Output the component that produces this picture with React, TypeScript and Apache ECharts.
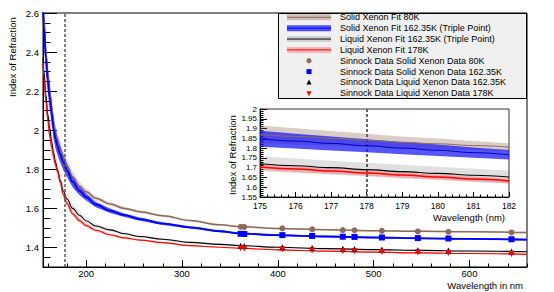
import React, { useEffect, useRef } from "react";
import * as echarts from "echarts";

// ---------- data ----------
const fitWavelengths = [155, 156, 158, 160, 162, 164, 166, 168, 170, 173, 176, 180, 186, 193, 200, 210, 225, 240, 256, 280, 308, 340, 360, 400, 450, 500, 550, 600, 660];
const solid80Fit = [2.66, 2.57, 2.40, 2.29, 2.20, 2.12, 2.04, 1.985, 1.945, 1.90, 1.862, 1.818, 1.762, 1.715, 1.685, 1.652, 1.622, 1.600, 1.583, 1.562, 1.538, 1.516, 1.507, 1.497, 1.491, 1.486, 1.483, 1.480, 1.477];
const solid80Err = [0.08, 0.075, 0.068, 0.062, 0.058, 0.054, 0.05, 0.047, 0.045, 0.042, 0.04, 0.034, 0.027, 0.021, 0.017, 0.013, 0.01, 0.008, 0.007, 0.006, 0.005, 0.005, 0.004, 0.004, 0.004, 0.004, 0.004, 0.004, 0.004];
const solid162Fit = [2.62, 2.53, 2.37, 2.26, 2.17, 2.09, 2.01, 1.958, 1.922, 1.877, 1.838, 1.795, 1.735, 1.69, 1.658, 1.62, 1.588, 1.565, 1.545, 1.522, 1.503, 1.483, 1.472, 1.463, 1.456, 1.451, 1.447, 1.444, 1.44];
const solid162Err = [0.09, 0.085, 0.075, 0.07, 0.065, 0.06, 0.055, 0.05, 0.047, 0.044, 0.04, 0.035, 0.028, 0.022, 0.018, 0.014, 0.011, 0.009, 0.008, 0.007, 0.006, 0.005, 0.005, 0.005, 0.004, 0.004, 0.004, 0.004, 0.004];
const liquid162Fit = [2.37, 2.30, 2.18, 2.08, 2.01, 1.94, 1.885, 1.838, 1.797, 1.745, 1.69, 1.648, 1.60, 1.565, 1.537, 1.51, 1.49, 1.47, 1.456, 1.442, 1.426, 1.416, 1.41, 1.401, 1.394, 1.389, 1.385, 1.382, 1.378];
const liquid162Err = [0.08, 0.075, 0.07, 0.064, 0.058, 0.054, 0.05, 0.046, 0.043, 0.04, 0.038, 0.034, 0.028, 0.022, 0.017, 0.013, 0.01, 0.008, 0.007, 0.006, 0.005, 0.005, 0.004, 0.004, 0.004, 0.004, 0.004, 0.004, 0.004];
const liquid178Fit = [2.34, 2.27, 2.15, 2.05, 1.97, 1.915, 1.865, 1.825, 1.79, 1.735, 1.672, 1.625, 1.572, 1.537, 1.512, 1.488, 1.465, 1.449, 1.438, 1.425, 1.409, 1.401, 1.396, 1.388, 1.381, 1.376, 1.372, 1.369, 1.365];
const liquid178Err = [0.03, 0.028, 0.026, 0.024, 0.022, 0.02, 0.019, 0.018, 0.017, 0.016, 0.015, 0.014, 0.012, 0.01, 0.008, 0.007, 0.006, 0.005, 0.004, 0.004, 0.003, 0.003, 0.003, 0.003, 0.003, 0.003, 0.003, 0.003, 0.003];

const sinnockWavelengths = [361.2, 365.0, 404.7, 435.8, 467.8, 480.0, 508.6, 546.1, 578.0, 643.8];
const sinnockSolid80 = [1.506, 1.505, 1.498, 1.493, 1.489, 1.488, 1.485, 1.482, 1.480, 1.477];
const sinnockSolid162 = [1.470, 1.469, 1.463, 1.459, 1.455, 1.454, 1.451, 1.448, 1.446, 1.442];
const sinnockLiquid162 = [1.409, 1.408, 1.401, 1.397, 1.393, 1.392, 1.389, 1.386, 1.384, 1.379];
const sinnockLiquid178 = [1.396, 1.395, 1.389, 1.385, 1.381, 1.380, 1.377, 1.374, 1.372, 1.367];

const insetWavelengths = [175, 176, 177, 178, 179, 180, 181, 182];
const insetSolid80 = [1.87, 1.86, 1.85, 1.84, 1.83, 1.822, 1.813, 1.805];
const insetSolid80Err = [0.045, 0.042, 0.038, 0.034, 0.03, 0.027, 0.023, 0.02];
const insetSolid162 = [1.848, 1.836, 1.824, 1.812, 1.8, 1.789, 1.777, 1.766];
const insetSolid162Err = [0.041, 0.038, 0.036, 0.033, 0.031, 0.029, 0.026, 0.024];
const insetLiquid162 = [1.72, 1.71, 1.70, 1.69, 1.68, 1.671, 1.661, 1.652];
const insetLiquid162Err = [0.038, 0.037, 0.036, 0.035, 0.035, 0.034, 0.034, 0.033];
const insetLiquid178 = [1.703, 1.693, 1.683, 1.673, 1.662, 1.652, 1.642, 1.632];
const insetLiquid178Err = [0.015, 0.015, 0.014, 0.014, 0.014, 0.013, 0.013, 0.013];

const triplePointWavelength = 178;

const mainXTicks = [200, 300, 400, 500, 600];
const mainXMinorTicks = [160, 180, 220, 240, 260, 280, 320, 340, 360, 380, 420, 440, 460, 480, 520, 540, 560, 580, 620, 640, 660];
const mainYTicks = [1.4, 1.6, 1.8, 2, 2.2, 2.4, 2.6];
const mainYMinorTicks = [1.35, 1.45, 1.5, 1.55, 1.65, 1.7, 1.75, 1.85, 1.9, 1.95, 2.05, 2.1, 2.15, 2.25, 2.3, 2.35, 2.45, 2.5, 2.55];
const insetXTicks = [175, 176, 177, 178, 179, 180, 181, 182];
const insetXMinorTicks = [175.2, 175.4, 175.6, 175.8, 176.2, 176.4, 176.6, 176.8, 177.2, 177.4, 177.6, 177.8, 178.2, 178.4, 178.6, 178.8, 179.2, 179.4, 179.6, 179.8, 180.2, 180.4, 180.6, 180.8, 181.2, 181.4, 181.6, 181.8];
const insetYTicks = [1.55, 1.6, 1.65, 1.7, 1.75, 1.8, 1.85, 1.9, 1.95, 2];
const insetYMinorTicks = [1.56, 1.57, 1.58, 1.59, 1.61, 1.62, 1.63, 1.64, 1.66, 1.67, 1.68, 1.69, 1.71, 1.72, 1.73, 1.74, 1.76, 1.77, 1.78, 1.79, 1.81, 1.82, 1.83, 1.84, 1.86, 1.87, 1.88, 1.89, 1.91, 1.92, 1.93, 1.94, 1.96, 1.97, 1.98, 1.99];

const legendLabels = [
  "Solid Xenon Fit 80K",
  "Solid Xenon Fit 162.35K (Triple Point)",
  "Liquid Xenon Fit 162.35K (Triple Point)",
  "Liquid Xenon Fit 178K",
  "Sinnock Data Solid Xenon Data 80K",
  "Sinnock Data Solid Xenon Data 162.35K",
  "Sinnock Data Liquid Xenon Data 162.35K",
  "Sinnock Data Liquid Xenon Data 178K",
];

// ---------- styles ----------
const FONT = "'Liberation Sans', Arial, Helvetica, sans-serif";
const BROWN = "#8c6b5a";
const BLUE = "#0000ff";
const BLACK = "#000000";
const RED = "#ff0000";
const BAND_BROWN = "rgba(140,100,80,0.25)";
const BAND_BLUE = "rgba(20,20,245,0.72)";
const BAND_BLACK = "rgba(0,0,0,0.09)";
const BAND_RED = "rgba(255,50,50,0.28)";

const pairs = (xs: number[], ys: number[]) => xs.map((x, i) => [x, ys[i]]);

function bandSeries(xs: number[], c: number[], e: number[], fill: string, axisIdx: number, z: number) {
  return {
    type: "custom",
    xAxisIndex: axisIdx,
    yAxisIndex: axisIdx,
    silent: true,
    z,
    data: xs.map((x, i) => [x, c[i] - e[i], c[i] + e[i]]),
    renderItem: (params: any, api: any) => {
      if (params.dataIndex !== 0) return null;
      const upper = xs.map((x, i) => api.coord([x, c[i] + e[i]]));
      const lower = xs.map((x, i) => api.coord([x, c[i] - e[i]])).reverse();
      const cs = params.coordSys;
      return {
        type: "group",
        clipPath: { type: "rect", shape: { x: cs.x, y: cs.y, width: cs.width, height: cs.height } },
        children: [
          { type: "polygon", shape: { points: upper.concat(lower) }, style: { fill, stroke: null } },
        ],
      };
    },
  };
}

function lineSeries(xs: number[], ys: number[], color: string, width: number, axisIdx: number, z: number, extra: any = {}) {
  return {
    type: "line",
    xAxisIndex: axisIdx,
    yAxisIndex: axisIdx,
    data: pairs(xs, ys),
    showSymbol: false,
    symbol: "none",
    smooth: 0.4,
    smoothMonotone: "x",
    clip: true,
    silent: true,
    z,
    lineStyle: { color, width },
    ...extra,
  };
}

function scatterSeries(ys: number[], color: string, symbol: string, size: number, rotate = 0) {
  return {
    type: "scatter",
    xAxisIndex: 0,
    yAxisIndex: 0,
    data: pairs(sinnockWavelengths, ys),
    symbol,
    symbolSize: size,
    symbolRotate: rotate,
    silent: true,
    z: 10,
    itemStyle: { color, opacity: 1 },
  };
}

const axisCommon = {
  axisLine: { show: true, lineStyle: { color: "#000", width: 1 } },
  splitLine: { show: false },
};

function buildOption() {
  const dashed = (color: string, width: number) => ({
    silent: true,
    symbol: "none",
    label: { show: false },
    lineStyle: { type: [3, 2], color, width },
    data: [{ xAxis: triplePointWavelength }],
  });

  const legendRows: any[] = [];
  const rowY = (i: number) => 17.3 + 10.86 * i;
  const sx0 = 287, sx1 = 331, scx = 309;
  const fitFills = ["rgba(140,100,80,0.35)", BAND_BLUE, "rgba(0,0,0,0.12)", "rgba(255,50,50,0.3)"];
  const fitLines = [BROWN, BLUE, BLACK, RED];
  for (let i = 0; i < 4; i++) {
    const y = rowY(i);
    legendRows.push({ type: "rect", z: 101, shape: { x: sx0, y: y - 3, width: sx1 - sx0, height: 6 }, style: { fill: fitFills[i] } });
    legendRows.push({ type: "line", z: 102, shape: { x1: sx0, y1: y, x2: sx1, y2: y }, style: { stroke: fitLines[i], lineWidth: 1 } });
  }
  legendRows.push({ type: "circle", z: 102, shape: { cx: scx, cy: rowY(4), r: 2.6 }, style: { fill: BROWN } });
  legendRows.push({ type: "rect", z: 102, shape: { x: scx - 2.5, y: rowY(5) - 2.5, width: 5, height: 5 }, style: { fill: BLUE } });
  legendRows.push({ type: "polygon", z: 102, shape: { points: [[scx, rowY(6) - 3], [scx - 2.5, rowY(6) + 2], [scx + 2.5, rowY(6) + 2]] }, style: { fill: BLACK } });
  legendRows.push({ type: "polygon", z: 102, shape: { points: [[scx, rowY(7) + 3], [scx - 2.5, rowY(7) - 2], [scx + 2.5, rowY(7) - 2]] }, style: { fill: RED } });
  legendLabels.forEach((t, i) => {
    legendRows.push({
      type: "text", z: 102, x: 340, y: rowY(i),
      style: { text: t, fill: "#000", font: `9px ${FONT}`, textAlign: "left", textVerticalAlign: "middle" },
    });
  });

  return {
    animation: false,
    backgroundColor: "#ffffff",
    textStyle: { fontFamily: FONT },
    grid: [
      { left: 43, top: 13, width: 484, height: 254, show: true, borderColor: "#000", borderWidth: 1, backgroundColor: "transparent", outerBoundsMode: "none", containLabel: false },
      { left: 260, top: 109, width: 249, height: 88, show: true, borderColor: "#333", borderWidth: 1, backgroundColor: "#fff", outerBoundsMode: "none", containLabel: false },
    ],
    xAxis: [
      {
        ...axisCommon, type: "value", gridIndex: 0, min: 155, max: 660, position: "bottom",
        axisTick: { show: true, inside: true, length: 7, customValues: mainXTicks, lineStyle: { color: "#000" } },
        axisLabel: { show: true, customValues: mainXTicks, color: "#000", fontSize: 9.5, margin: 1, fontFamily: FONT },
      },
      {
        type: "value", gridIndex: 0, min: 155, max: 660, position: "bottom", offset: 0,
        axisLine: { show: false }, splitLine: { show: false }, axisLabel: { show: false },
        axisTick: { show: true, inside: true, length: 3.5, customValues: mainXMinorTicks, lineStyle: { color: "#000" } },
      },
      {
        ...axisCommon, type: "value", gridIndex: 1, min: 175, max: 182, position: "bottom",
        axisTick: { show: true, inside: true, length: 5, customValues: insetXTicks, lineStyle: { color: "#000" } },
        axisLabel: { show: true, customValues: insetXTicks, color: "#000", fontSize: 8.5, margin: 4, fontFamily: FONT },
      },
      {
        type: "value", gridIndex: 1, min: 175, max: 182, position: "bottom", offset: 0,
        axisLine: { show: false }, splitLine: { show: false }, axisLabel: { show: false },
        axisTick: { show: true, inside: true, length: 2.5, customValues: insetXMinorTicks, lineStyle: { color: "#000" } },
      },
    ],
    yAxis: [
      {
        ...axisCommon, type: "value", gridIndex: 0, min: 1.3, max: 2.6, position: "left",
        axisTick: { show: true, inside: true, length: 14, customValues: mainYTicks, lineStyle: { color: "#000" } },
        axisLabel: { show: true, customValues: mainYTicks, color: "#000", fontSize: 9.5, margin: 4, fontFamily: FONT },
      },
      {
        type: "value", gridIndex: 0, min: 1.3, max: 2.6, position: "left", offset: 0,
        axisLine: { show: false }, splitLine: { show: false }, axisLabel: { show: false },
        axisTick: { show: true, inside: true, length: 7.5, customValues: mainYMinorTicks, lineStyle: { color: "#000" } },
      },
      {
        ...axisCommon, type: "value", gridIndex: 1, min: 1.55, max: 2, position: "left",
        axisTick: { show: true, inside: true, length: 7, customValues: insetYTicks, lineStyle: { color: "#000" } },
        axisLabel: { show: true, customValues: insetYTicks, color: "#000", fontSize: 8, margin: 3, fontFamily: FONT },
      },
      {
        type: "value", gridIndex: 1, min: 1.55, max: 2, position: "left", offset: 0,
        axisLine: { show: false }, splitLine: { show: false }, axisLabel: { show: false },
        axisTick: { show: true, inside: true, length: 3.5, customValues: insetYMinorTicks, lineStyle: { color: "#000" } },
      },
    ],
    series: [
      // main plot bands
      bandSeries(fitWavelengths, solid80Fit, solid80Err, BAND_BROWN, 0, 2),
      bandSeries(fitWavelengths, solid162Fit, solid162Err, BAND_BLUE, 0, 3),
      bandSeries(fitWavelengths, liquid162Fit, liquid162Err, BAND_BLACK, 0, 2),
      bandSeries(fitWavelengths, liquid178Fit, liquid178Err, BAND_RED, 0, 2),
      // main plot fit lines
      lineSeries(fitWavelengths, solid80Fit, BROWN, 1.5, 0, 4),
      lineSeries(fitWavelengths, solid162Fit, BLUE, 1.8, 0, 4, { markLine: dashed("#555", 1.5) }),
      lineSeries(fitWavelengths, liquid162Fit, BLACK, 1.1, 0, 4),
      lineSeries(fitWavelengths, liquid178Fit, RED, 1.2, 0, 4),
      // Sinnock data
      scatterSeries(sinnockSolid80, BROWN, "circle", 6),
      scatterSeries(sinnockSolid162, BLUE, "rect", 6),
      scatterSeries(sinnockLiquid162, BLACK, "triangle", 6),
      scatterSeries(sinnockLiquid178, RED, "triangle", 6, 180),
      // inset
      bandSeries(insetWavelengths, insetSolid80, insetSolid80Err, "rgba(140,100,80,0.32)", 2, 12),
      bandSeries(insetWavelengths, insetSolid162, insetSolid162Err, BAND_BLUE, 2, 13),
      bandSeries(insetWavelengths, insetLiquid162, insetLiquid162Err, "rgba(0,0,0,0.12)", 2, 12),
      bandSeries(insetWavelengths, insetLiquid178, insetLiquid178Err, "rgba(255,50,50,0.3)", 2, 12),
      lineSeries(insetWavelengths, insetSolid80, BROWN, 1, 2, 14),
      lineSeries(insetWavelengths, insetSolid162, "#0000c8", 1, 2, 14, { markLine: dashed("#666", 2) }),
      lineSeries(insetWavelengths, insetLiquid162, BLACK, 1.1, 2, 14),
      lineSeries(insetWavelengths, insetLiquid178, RED, 1.5, 2, 14),
    ],
    graphic: [
      {
        type: "text", x: 12, y: 57, rotation: Math.PI / 2, z: 100,
        style: { text: "Index of Refraction", fill: "#000", font: `9.5px ${FONT}`, textAlign: "center", textVerticalAlign: "middle" },
      },
      {
        type: "text", x: 523, y: 285.5, z: 100,
        style: { text: "Wavelength in nm", fill: "#000", font: `9.5px ${FONT}`, textAlign: "right", textVerticalAlign: "middle" },
      },
      {
        type: "text", x: 232.5, y: 155, rotation: Math.PI / 2, z: 100,
        style: { text: "Index of Refraction", fill: "#000", font: `9.5px ${FONT}`, textAlign: "center", textVerticalAlign: "middle" },
      },
      {
        type: "text", x: 505, y: 217, z: 100,
        style: { text: "Wavelength (nm)", fill: "#000", font: `9.5px ${FONT}`, textAlign: "right", textVerticalAlign: "middle" },
      },
      {
        type: "rect", z: 100,
        shape: { x: 278.5, y: 13.5, width: 248, height: 85 },
        style: { fill: "#f0f0f0", stroke: "#000", lineWidth: 1 },
      },
      ...legendRows,
    ],
  };
}

export default function App() {
  const ref = useRef<HTMLDivElement>(null);
  useEffect(() => {
    if (!ref.current) return;
    const chart = echarts.init(ref.current, undefined, { renderer: "svg" });
    chart.setOption(buildOption() as any);
    return () => chart.dispose();
  }, []);
  return <div ref={ref} style={{ position: "absolute", left: 0, top: 0, width: 554, height: 292 }} />;
}
